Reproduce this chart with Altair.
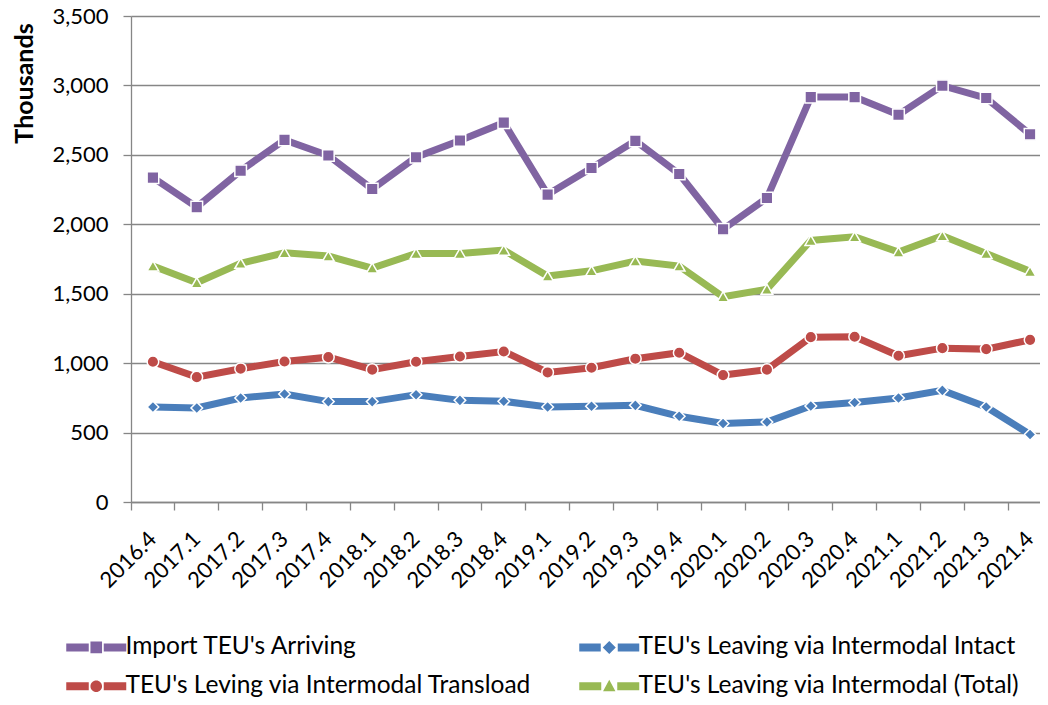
import altair as alt
import pandas as pd

quarters = ["2016.4", "2017.1", "2017.2", "2017.3", "2017.4", "2018.1", "2018.2",
            "2018.3", "2018.4", "2019.1", "2019.2", "2019.3", "2019.4", "2020.1",
            "2020.2", "2020.3", "2020.4", "2021.1", "2021.2", "2021.3", "2021.4"]

series_names = ["Import TEU's Arriving",
                "TEU's Leaving via Intermodal Intact",
                "TEU's Leving via Intermodal Transload",
                "TEU's Leaving via Intermodal (Total)"]

import_vals = [2336, 2124, 2386, 2608, 2495, 2254, 2483, 2603, 2732, 2214, 2405,
               2601, 2362, 1964, 2189, 2916, 2916, 2789, 2998, 2909, 2648]
intact_vals = [684, 677, 749, 778, 723, 723, 773, 732, 725, 684, 689,
               696, 617, 565, 576, 691, 716, 749, 804, 684, 486]
transload_vals = [1010, 899, 960, 1012, 1043, 953, 1010, 1048, 1084, 933, 967,
                  1032, 1075, 914, 953, 1187, 1190, 1053, 1108, 1101, 1168]
total_vals = [1700, 1579, 1719, 1795, 1771, 1685, 1790, 1790, 1814, 1627, 1665,
              1735, 1699, 1478, 1532, 1884, 1910, 1800, 1917, 1790, 1661]

y_ticks = [0, 500, 1000, 1500, 2000, 2500, 3000, 3500]

colors = ["#8064A2", "#4A7EBB", "#BE4B48", "#98B954"]
marker_shapes = ["square", "diamond", "circle", "triangle-up"]

# legend symbols: thick line with a marker in the middle (units scaled by 10px)
legend_paths = [
    "M-3,-0.4L-0.75,-0.4L-0.75,0.4L-3,0.4Z M-0.58,-0.58L0.58,-0.58L0.58,0.58L-0.58,0.58Z M0.75,-0.4L3,-0.4L3,0.4L0.75,0.4Z",
    "M-3,-0.4L-0.85,-0.4L-0.85,0.4L-3,0.4Z M0,-0.65L0.65,0L0,0.65L-0.65,0Z M0.85,-0.4L3,-0.4L3,0.4L0.85,0.4Z",
    "M-3,-0.4L-0.75,-0.4L-0.75,0.4L-3,0.4Z M-0.58,0A0.58,0.58 0 1,0 0.58,0A0.58,0.58 0 1,0 -0.58,0Z M0.75,-0.4L3,-0.4L3,0.4L0.75,0.4Z",
    "M-3,-0.4L-0.8,-0.4L-0.8,0.4L-3,0.4Z M0,-0.65L0.62,0.5L-0.62,0.5Z M0.8,-0.4L3,-0.4L3,0.4L0.8,0.4Z",
]

rows = []
for name, vals in zip(series_names, [import_vals, intact_vals, transload_vals, total_vals]):
    for q, v in zip(quarters, vals):
        rows.append({"quarter": q, "series": name, "value": v})
df = pd.DataFrame(rows)

FONT = "Lato"
GRAY = "#868686"

x_enc = alt.X(
    "quarter:N",
    sort=quarters,
    scale=alt.Scale(type="band", range=[0, 921], paddingInner=0, paddingOuter=0),
    axis=alt.Axis(
        title=None, labelAngle=315, labelAlign="right", labelBaseline="middle",
        labelPadding=25, tickSize=8, bandPosition=0,
        labelFont=FONT, labelFontSize=22, labelColor="black",
        domainColor=GRAY, tickColor=GRAY, domainWidth=1.3, tickWidth=1.3,
        grid=False, labelOverlap=False,
    ),
)
y_enc = alt.Y(
    "value:Q",
    scale=alt.Scale(domain=[0, 3500], nice=False),
    axis=alt.Axis(
        values=y_ticks, format=",.0f", title="Thousands",
        titleFont=FONT, titleFontSize=25, titleFontWeight="bold", titleColor="black",
        titleX=-107, titleY=67, titleAngle=270, titleAlign="center", titleBaseline="middle",
        labelFont=FONT, labelFontSize=22, labelColor="black", labelPadding=15,
        tickSize=8, domainColor=GRAY, tickColor=GRAY, gridColor=GRAY,
        domainWidth=1.3, tickWidth=1.3, gridWidth=1.3,
    ),
)

base = alt.Chart(df)

layers = []
for name, col, shp in zip(series_names, colors, marker_shapes):
    sub = base.transform_filter(alt.datum.series == name)
    layers.append(
        sub.mark_line(strokeWidth=7).encode(x=x_enc, y=y_enc, color=alt.value(col))
    )
    layers.append(
        sub.mark_point(filled=True, size=135, opacity=1).encode(
            x=x_enc, y=y_enc,
            color=alt.value(col),
            shape=alt.value(shp),
            stroke=alt.value("white"),
            strokeWidth=alt.value(1.5),
        )
    )

# legend carrier: its points sit far outside the drawing, only the legend shows
legend_layer = base.mark_point(filled=True, opacity=1).encode(
    x=x_enc,
    y=alt.value(-3000),
    color=alt.Color(
        "series:N",
        scale=alt.Scale(domain=series_names, range=colors),
        legend=alt.Legend(
            title=None, orient="none", legendX=-47, legendY=619,
            direction="horizontal", columns=2,
            columnPadding=47, rowPadding=14, labelOffset=17, labelLimit=600,
            labelFont=FONT, labelFontSize=24.5, labelColor="black",
            symbolSize=400, symbolStrokeWidth=0, symbolOpacity=1,
        ),
    ),
    shape=alt.Shape("series:N", scale=alt.Scale(domain=series_names, range=legend_paths)),
)
layers.append(legend_layer)

chart = alt.layer(*layers).properties(
    width=909, height=486,
    autosize=alt.AutoSizeParams(type="none"),
    padding={"left": 123, "top": 8, "right": 0, "bottom": 195},
).configure_view(stroke=None)

chart.save("out.html", embed_options={"renderer": "svg", "actions": False})
